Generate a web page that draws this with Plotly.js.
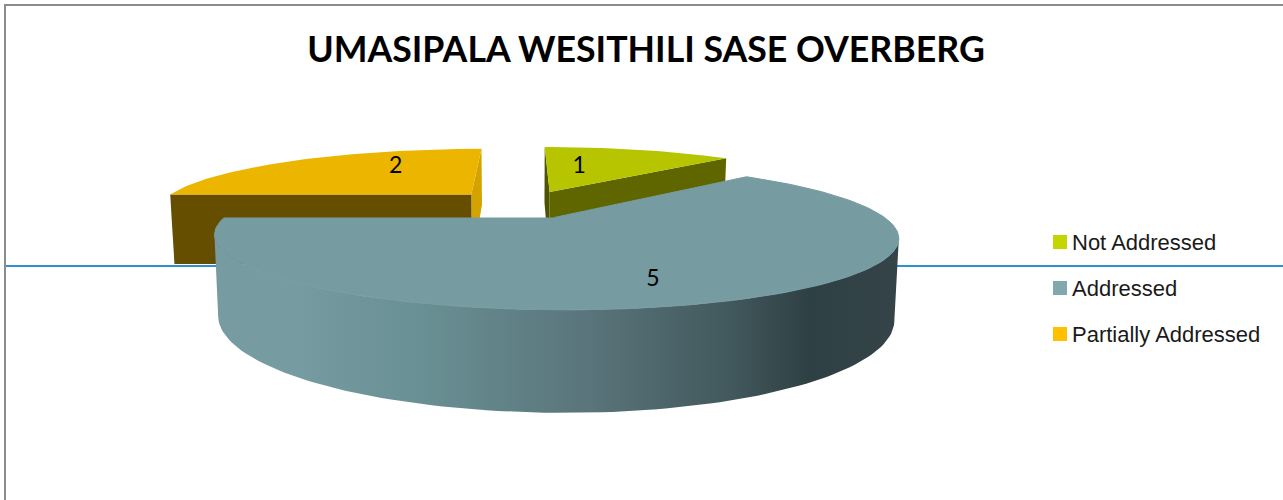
<!DOCTYPE html>
<html>
<head>
<meta charset="utf-8">
<script src="https://cdn.plot.ly/plotly-3.0.1.min.js"></script>
<style>html,body{margin:0;padding:0;background:#fff;overflow:hidden}</style>
</head>
<body>
<div id="chart" style="width:1283px;height:500px"></div>
<script>
// ---- data ----
const chartTitle = "UMASIPALA WESITHILI SASE OVERBERG";
const categories = ["Not Addressed", "Addressed", "Partially Addressed"];
const values = [1, 5, 2];
const topColors = ["#b6c500", "#769ba1", "#ecb500"];
const keyColors = ["#c4d600", "#80a9ae", "#ffc000"];

// ---- 3D pie geometry (view model of the tilted, exploded pie) ----
const W = 1283, H = 500;
const view = {ox: 524, oy: 204, a: 313, c: 61.3, persp: 0.249, explode: 0.225, depth: 72, taper: 0.012};
const sliceNudgeX = [0, 0.006, -0.016];
const total = values.reduce((s, v) => s + v, 0);
const toRad = d => d * Math.PI / 180;

function project(X, Y, z) {
  const s = 1 / (1 + view.persp * Y);
  const shrink = 1 - view.taper * z;
  return [view.ox + view.a * X * s * shrink,
          view.oy - view.c * Y * s + view.depth * s * z];
}
function rimPoint(sl, t, z) {
  return project(sl.ex + Math.sin(toRad(t)), sl.ey + Math.cos(toRad(t)), z);
}
function apexPoint(sl, z) { return project(sl.ex, sl.ey, z); }

let acc = 0;
const slices = values.map((v, i) => {
  const start = acc / total * 360;
  acc += v;
  const end = acc / total * 360;
  const mid = toRad((start + end) / 2);
  return {start, end, ex: view.explode * Math.sin(mid) + sliceNudgeX[i], ey: view.explode * Math.cos(mid)};
});
function arc(sl, from, to, z) {
  const n = Math.max(2, Math.round(Math.abs(to - from) / 1.5));
  const out = [];
  for (let i = 0; i <= n; i++) out.push(rimPoint(sl, from + (to - from) * i / n, z));
  return out;
}
function poly(points, extra) {
  return Object.assign({
    x: points.map(p => p[0]), y: points.map(p => p[1]),
    mode: "lines", fill: "toself", line: {width: 0}, hoverinfo: "skip", showlegend: false
  }, extra);
}
function radialFace(sl, t, color) {
  return poly([apexPoint(sl, 0), rimPoint(sl, t, 0), rimPoint(sl, t, 1), apexPoint(sl, 1)], {fillcolor: color});
}
function topFace(sl, color, extra) {
  return poly([apexPoint(sl, 0)].concat(arc(sl, sl.start, sl.end, 0)), Object.assign({fillcolor: color}, extra || {}));
}

const [green, blue, orange] = slices;

// silhouette of the front wall
let tR = blue.start, tL = blue.end, maxX = -1e9, minX = 1e9;
for (let t = blue.start; t <= blue.end; t += 0.5) {
  const x = rimPoint(blue, t, 0)[0];
  if (x > maxX) { maxX = x; tR = t; }
  if (x < minX) { minX = x; tL = t; }
}
const blueWall = poly(arc(blue, tR, tL, 0).concat(arc(blue, tL, tR, 1)), {
  fillcolor: "#769ba1",
  fillgradient: {type: "horizontal", colorscale: [
    [0, "#769ba1"], [0.12, "#769ba1"], [0.3, "#699094"], [0.55, "#59747a"],
    [0.75, "#42595d"], [0.87, "#2f4044"], [1, "#344448"]
  ]}
});

const traces = [
  radialFace(orange, orange.end, "#d4a300"),
  radialFace(orange, orange.start, "#654e00"),
  topFace(orange, topColors[2]),
  radialFace(green, green.start, "#4d5300"),
  radialFace(green, green.end, "#5f6600"),
  topFace(green, topColors[0]),
  blueWall,
  topFace(blue, topColors[1], {line: {width: 1, color: topColors[1]}})
];

// value labels, placed inside each slice's top face: [fraction along the slice, fraction of radius]
const labelSpots = [[0.3, 0.52], [0.526, 0.775], [0.67, 0.618]];
const labelAt = slices.map((sl, i) => {
  const m = toRad(sl.start + (sl.end - sl.start) * labelSpots[i][0]);
  const r = labelSpots[i][1];
  return project(sl.ex + r * Math.sin(m), sl.ey + r * Math.cos(m), 0);
});
traces.push({
  x: labelAt.map(p => p[0]), y: labelAt.map(p => p[1]),
  text: values.map(String), mode: "text", textposition: "middle center",
  textfont: {family: "Lato, sans-serif", size: 23, color: "#000"},
  hoverinfo: "skip", showlegend: false
});

// key
const keyX = 1060, keyTextX = 1072, keyY = [242, 288, 334], keyTextY = [244, 290, 336];
traces.push({
  x: categories.map(() => keyX), y: keyY,
  mode: "markers",
  marker: {symbol: "square", size: 14, color: keyColors},
  hoverinfo: "skip", showlegend: false
});
traces.push({
  x: categories.map(() => keyTextX), y: keyTextY,
  text: categories, mode: "text", textposition: "middle right",
  textfont: {family: "Liberation Sans, Arial, sans-serif", size: 22, color: "#1a1a1a"},
  hoverinfo: "skip", showlegend: false
});

const layout = {
  width: W, height: H,
  margin: {l: 0, r: 0, t: 0, b: 0},
  paper_bgcolor: "#fff", plot_bgcolor: "#fff",
  showlegend: false,
  title: {
    text: "<b>" + chartTitle + "</b>",
    x: 646 / W, xanchor: "center", xref: "paper",
    y: 1 - 50 / H, yanchor: "middle", yref: "paper",
    font: {family: "Lato, sans-serif", size: 35.7, color: "#000"}
  },
  xaxis: {range: [0, W], visible: false, fixedrange: true},
  yaxis: {range: [H, 0], visible: false, fixedrange: true},
  shapes: [
    {type: "line", layer: "below", x0: 5, x1: W, y0: 266, y1: 266, line: {color: "#2e91cf", width: 2}},
    {type: "line", layer: "below", x0: 5, x1: W, y0: 5, y1: 5, line: {color: "#8c8c8c", width: 2}},
    {type: "line", layer: "below", x0: 5, x1: 5, y0: 4, y1: H, line: {color: "#8c8c8c", width: 2}}
  ]
};
Plotly.newPlot("chart", traces, layout, {displayModeBar: false, responsive: false});
</script>
</body>
</html>
